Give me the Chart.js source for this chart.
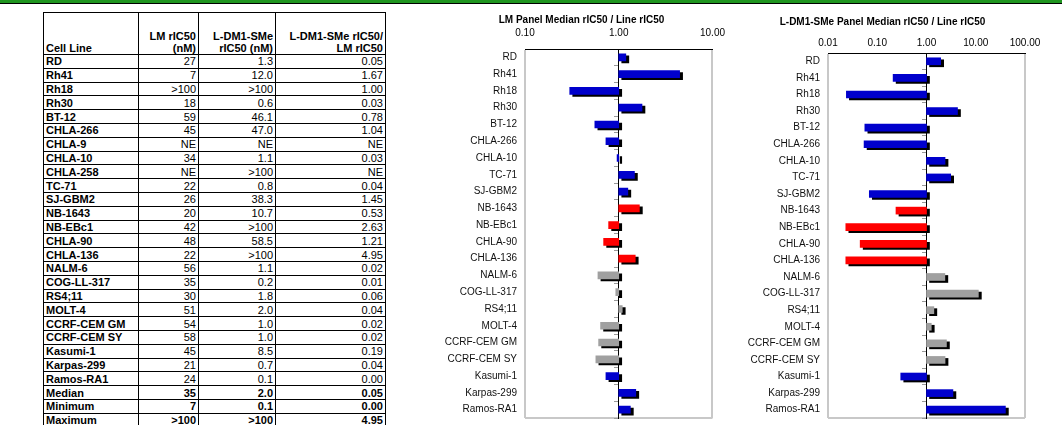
<!DOCTYPE html>
<html><head><meta charset="utf-8">
<script src="https://cdn.jsdelivr.net/npm/chart.js@4.4.1/dist/chart.umd.min.js"></script>
<style>
html,body{margin:0;padding:0;background:#fff;width:1062px;height:425px;overflow:hidden;position:relative;font-family:'Liberation Sans',Arial,sans-serif;}
#band{position:absolute;left:0;top:0;width:1062px;height:3px;background:#1f951f;border-bottom:1px solid #000;}
#tblwrap{position:absolute;left:43px;top:12px;}
table{border-collapse:collapse;font-size:11px;color:#000;table-layout:fixed;}
td{border:1px solid #000;padding:0 2px;line-height:12px;white-space:nowrap;overflow:hidden;box-sizing:border-box;}
td.n{text-align:right;}
td.b{font-weight:bold;}
tr.h td{vertical-align:bottom;font-weight:bold;height:42px;padding-bottom:0px;}
tr.r td{height:13.8px;}
.cv{position:absolute;top:0;}
</style>
</head><body>
<div id="band"></div>
<div id="tblwrap"><table id="tbl">
<colgroup><col style="width:95px"><col style="width:60px"><col style="width:77px"><col style="width:110px"></colgroup>
<tbody id="tb"></tbody></table></div>
<canvas id="c1" class="cv" width="295" height="432" style="left:440px"></canvas>
<canvas id="c2" class="cv" width="322" height="432" style="left:740px"></canvas>
<script>
// ---------- table data ----------
const headerCells = ['Cell Line', 'LM rIC50<br>(nM)', 'L-DM1-SMe<br>rIC50 (nM)', 'L-DM1-SMe rIC50/<br>LM rIC50'];
const cellLines = ['RD','Rh41','Rh18','Rh30','BT-12','CHLA-266','CHLA-9','CHLA-10','CHLA-258','TC-71','SJ-GBM2','NB-1643','NB-EBc1','CHLA-90','CHLA-136','NALM-6','COG-LL-317','RS4;11','MOLT-4','CCRF-CEM GM','CCRF-CEM SY','Kasumi-1','Karpas-299','Ramos-RA1'];
const lmIC50 = ['27','7','>100','18','59','45','NE','34','NE','22','26','20','42','48','22','56','35','30','51','54','58','45','21','24'];
const ldmIC50 = ['1.3','12.0','>100','0.6','46.1','47.0','NE','1.1','>100','0.8','38.3','10.7','>100','58.5','>100','1.1','0.2','1.8','2.0','1.0','1.0','8.5','0.7','0.1'];
const ratioIC50 = ['0.05','1.67','1.00','0.03','0.78','1.04','NE','0.03','NE','0.04','1.45','0.53','2.63','1.21','4.95','0.02','0.01','0.06','0.04','0.02','0.02','0.19','0.04','0.00'];
const summaryLabels = ['Median','Minimum','Maximum'];
const summaryLM = ['35','7','>100'];
const summaryLDM = ['2.0','0.1','>100'];
const summaryRatio = ['0.05','0.00','4.95'];

// ---------- chart data ----------
const chartLines = ['RD','Rh41','Rh18','Rh30','BT-12','CHLA-266','CHLA-10','TC-71','SJ-GBM2','NB-1643','NB-EBc1','CHLA-90','CHLA-136','NALM-6','COG-LL-317','RS4;11','MOLT-4','CCRF-CEM GM','CCRF-CEM SY','Kasumi-1','Karpas-299','Ramos-RA1'];
const linePanels = ['solid','solid','solid','solid','solid','solid','solid','solid','solid','neuro','neuro','neuro','neuro','all','all','all','all','all','all','other','other','other'];
const lmRatio = [1.19, 4.46, 0.30, 1.77, 0.556, 0.73, 0.96, 1.47, 1.25, 1.66, 0.78, 0.69, 1.50, 0.60, 0.93, 1.09, 0.64, 0.61, 0.57, 0.73, 1.52, 1.33];
const ldmRatio = [1.94, 0.21, 0.0236, 4.26, 0.056, 0.054, 2.38, 3.10, 0.069, 0.24, 0.023, 0.045, 0.023, 2.36, 11.3, 1.41, 1.25, 2.54, 2.38, 0.30, 3.44, 40];
const lmTicks = [0.1, 1, 10];
const ldmTicks = [0.01, 0.1, 1, 10, 100];
const lmTitle = 'LM Panel Median rIC50 / Line rIC50';
const ldmTitle = 'L-DM1-SMe Panel Median rIC50 / Line rIC50';

// ---------- build table ----------
const tb = document.getElementById('tb');
let html = '<tr class="h">' + headerCells.map((h,i)=>'<td class="' + (i? 'n':'') + '">' + h + '</td>').join('') + '</tr>';
cellLines.forEach((c,i)=>{
  html += '<tr class="r"><td class="b">' + c + '</td><td class="n">' + lmIC50[i] + '</td><td class="n">' + ldmIC50[i] + '</td><td class="n">' + ratioIC50[i] + '</td></tr>';
});
summaryLabels.forEach((c,i)=>{
  html += '<tr class="r"><td class="b">' + c + '</td><td class="n b">' + summaryLM[i] + '</td><td class="n b">' + summaryLDM[i] + '</td><td class="n b">' + summaryRatio[i] + '</td></tr>';
});
tb.innerHTML = html;

// ---------- charts ----------
Chart.defaults.font.family = "'Liberation Sans', Arial, sans-serif";
const panelColors = {solid:'#0000CC', neuro:'#FF0000', all:'#A0A0A0', other:'#0000CC'};
const gray = '#c8c8c8';
const shadowPlugin = {
  id:'shadow',
  beforeDatasetsDraw(chart){ const c = chart.ctx; c.save(); c.shadowColor = '#000'; c.shadowOffsetX = 3; c.shadowOffsetY = 2; c.shadowBlur = 0; },
  afterDatasetsDraw(chart){ chart.ctx.restore(); }
};

function makeChart(id, title, values, ticks, o){
  const tmin = ticks[0], tmax = ticks[ticks.length-1];
  return new Chart(document.getElementById(id), {
    type:'bar',
    data:{labels: chartLines, datasets:[{
      data: values.map(v=>[1, v]),
      backgroundColor: linePanels.map(p=>panelColors[p]),
      borderWidth:0, barThickness:7
    }]},
    options:{
      indexAxis:'y', responsive:false, animation:false,
      layout:{padding:{left:0, right:o.padRight, top:0, bottom:1}},
      plugins:{
        legend:{display:false}, tooltip:{enabled:false},
        title:{display:true, text:title, color:'#000', font:{size:10, weight:'bold'}, padding:{top:o.titleTop, bottom:0}}
      },
      scales:{
        x:{type:'logarithmic', position:'top', min:tmin, max:tmax,
           afterBuildTicks: s=>{ s.ticks = ticks.map(v=>({value:v})); },
           afterFit: s=>{ s.height = o.xHeight; },
           ticks:{color:'#000', font:{size:10}, padding:o.tickPad, autoSkip:false, maxRotation:0, callback:v=>Number(v).toFixed(2)},
           grid:{drawTicks:false, lineWidth:2, color:c=>(c.tick && (c.tick.value===tmin || c.tick.value===tmax)) ? gray : 'rgba(0,0,0,0)'},
           border:{display:true, color:'#000', width:1}},
        y:{type:'category', position:'left', offset:true,
           afterFit: s=>{ s.width = o.yWidth; },
           ticks:{color:'#111', font:{size:10}, padding:8, autoSkip:false},
           grid:{drawTicks:false, offset:true, lineWidth:2, color:c=>c.tick ? 'rgba(0,0,0,0)' : gray},
           border:{display:false}},
        y2:{type:'category', axis:'y', position:{x:1}, z:1, offset:true,
           ticks:{display:false},
           grid:{drawOnChartArea:false, drawTicks:true, tickLength:4, offset:true, color:'#999', lineWidth:1},
           border:{display:true, color:'#000', width:1}}
      }
    },
    plugins:[shadowPlugin]
  });
}
makeChart('c1', lmTitle, lmRatio, lmTicks, {yWidth:85, padRight:12, titleTop:14, xHeight:23, tickPad:10});
makeChart('c2', ldmTitle, ldmRatio, ldmTicks, {yWidth:88, padRight:37, titleTop:16, xHeight:25, tickPad:4});
</script>
</body></html>
